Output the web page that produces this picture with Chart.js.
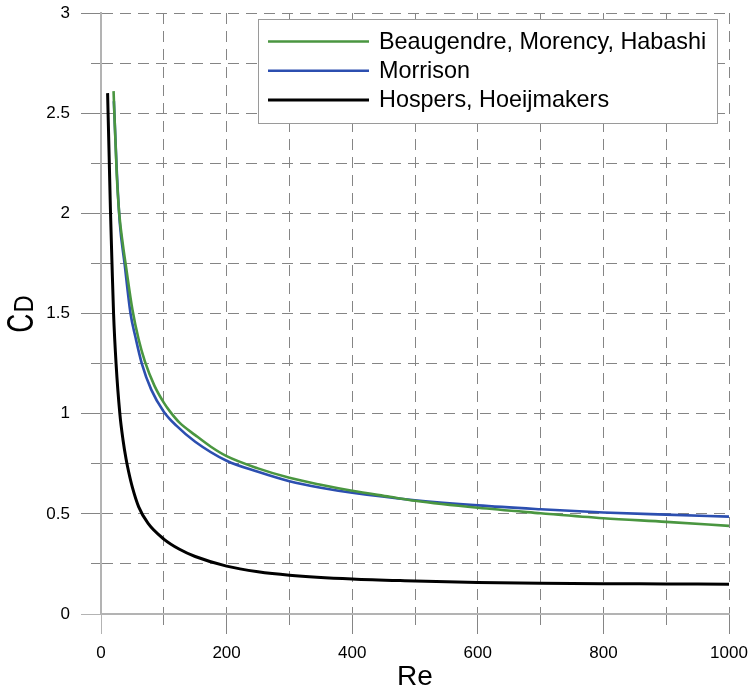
<!DOCTYPE html>
<html><head><meta charset="utf-8">
<script src="https://cdn.jsdelivr.net/npm/chart.js@4/dist/chart.umd.min.js"></script>
<style>html,body{margin:0;padding:0;background:#fff;}</style>
</head><body>
<canvas id="c" width="750" height="691"></canvas>
<script>
// ---- data ----
const seriesNames = ['Beaugendre, Morency, Habashi', 'Morrison', 'Hospers, Hoeijmakers'];

const reBeaugendre = [20, 25, 29, 35, 40, 50, 60, 70, 85, 100, 110, 125, 150, 175, 200, 250, 300, 350, 400, 460, 500, 600, 700, 800, 900, 1000];
const cdBeaugendre = [2.61, 2.20, 2.00, 1.84, 1.73, 1.52, 1.37, 1.26, 1.14, 1.055, 1.01, 0.955, 0.893, 0.835, 0.788, 0.727, 0.68, 0.645, 0.615, 0.585, 0.565, 0.53, 0.503, 0.478, 0.46, 0.44];

const reMorrison = [20.5, 25, 30, 37.5, 47, 55, 65, 80, 100, 120, 150, 200, 250, 300, 350, 400, 500, 600, 700, 800, 900, 1000];
const cdMorrison = [2.56, 2.22, 1.95, 1.75, 1.50, 1.38, 1.25, 1.12, 1.01, 0.94, 0.86, 0.765, 0.71, 0.663, 0.63, 0.605, 0.568, 0.542, 0.523, 0.507, 0.496, 0.486];

const reHospers = [10.5, 13, 15, 17.5, 20, 24, 30, 35, 40, 44, 50, 60, 75, 100, 125, 150, 200, 250, 300, 400, 500, 600, 700, 800, 900, 1000];
const cdHospers = [2.60, 2.28, 2.02, 1.75, 1.50, 1.25, 1.00, 0.87, 0.772, 0.71, 0.632, 0.535, 0.452, 0.374, 0.323, 0.287, 0.239, 0.211, 0.194, 0.175, 0.165, 0.157, 0.153, 0.151, 0.150, 0.149];

const xTickLabels = ['0', '200', '400', '600', '800', '1000'];
const yTickLabels = ['0', '0.5', '1', '1.5', '2', '2.5', '3'];
const xTitle = 'Re';
const yTitleMain = 'C';
const yTitleSub = 'D';

// ---- build ----
const FONT = "'Liberation Sans', Arial, sans-serif";
const toPts = (xs, ys) => xs.map((x, i) => ({x: x, y: ys[i]}));
const colors = ['#4a9640', '#2c4fb0', '#000000'];
const widths = [2.6, 2.6, 3];
const allRe = [reBeaugendre, reMorrison, reHospers];
const allCd = [cdBeaugendre, cdMorrison, cdHospers];

const datasets = seriesNames.map((n, i) => ({
  label: n,
  data: toPts(allRe[i], allCd[i]),
  borderColor: colors[i],
  backgroundColor: colors[i],
  borderWidth: widths[i],
  pointRadius: 0,
  fill: false,
  cubicInterpolationMode: 'monotone'
}));

const GRID = '#858585';
const AXIS = '#b3b3b3';

const isMajorX = v => xTickLabels.includes(String(+(+v).toFixed(4)));
const isMajorY = v => yTickLabels.includes(String(+(+v).toFixed(4)));

function gridFor(isMajor, offMinor) {
  return {
    color: c => (c.tick && c.tick.value === 0) ? 'rgba(0,0,0,0)' : GRID,
    lineWidth: 1,
    drawTicks: true,
    tickLength: 20,
    tickWidth: 1,
    tickColor: c => (c.tick && c.tick.value === 0) ? AXIS : GRID,
    tickBorderDash: c => (c.tick && isMajor(c.tick.value)) ? [] : [10, 10],
    tickBorderDashOffset: c => (c.tick && isMajor(c.tick.value)) ? 0 : offMinor
  };
}

const legendBox = {
  id: 'legendBox',
  afterDatasetsDraw(chart) {
    const ctx = chart.ctx;
    const xs = chart.scales.x, ys = chart.scales.y;
    const left = Math.round(xs.getPixelForValue(250)), right = Math.round(xs.getPixelForValue(981));
    const top = Math.round(ys.getPixelForValue(2.97)), bottom = Math.round(ys.getPixelForValue(2.45));
    ctx.save();
    ctx.fillStyle = '#fff';
    ctx.fillRect(left, top, right - left, bottom - top);
    ctx.strokeStyle = '#9a9a9a';
    ctx.lineWidth = 1;
    ctx.strokeRect(left + 0.5, top + 0.5, right - left, bottom - top);
    ctx.font = '23.4px ' + FONT;
    ctx.textBaseline = 'middle';
    ctx.textAlign = 'left';
    chart.data.datasets.forEach((ds, i) => {
      const y = top + 22.5 + i * 29.2;
      ctx.strokeStyle = ds.borderColor;
      ctx.lineWidth = ds.borderWidth;
      ctx.beginPath();
      ctx.moveTo(left + 10, y);
      ctx.lineTo(left + 111, y);
      ctx.stroke();
      ctx.fillStyle = '#000';
      ctx.fillText(ds.label, left + 121, y + 1);
    });
    ctx.restore();
  }
};

const yTitlePlugin = {
  id: 'yTitle',
  afterDraw(chart) {
    const ctx = chart.ctx;
    const ys = chart.scales.y;
    const cy = (ys.top + ys.bottom) / 2;
    ctx.save();
    ctx.translate(33, cy + 19);
    ctx.rotate(-Math.PI / 2);
    ctx.fillStyle = '#000';
    ctx.textBaseline = 'alphabetic';
    ctx.textAlign = 'left';
    ctx.save();
    ctx.scale(0.72, 1);
    ctx.font = '36px ' + FONT;
    ctx.fillText(yTitleMain, 0, 0);
    ctx.restore();
    ctx.save();
    ctx.translate(20, 0);
    ctx.scale(0.85, 1);
    ctx.font = '28px ' + FONT;
    ctx.fillText(yTitleSub, 0, 0);
    ctx.restore();
    ctx.restore();
  }
};

new Chart(document.getElementById('c'), {
  type: 'line',
  data: { datasets: datasets },
  options: {
    responsive: false,
    animation: false,
    devicePixelRatio: 1,
    layout: { padding: { left: 0, right: 21, top: 13, bottom: 0 } },
    plugins: { legend: { display: false }, tooltip: { enabled: false } },
    scales: {
      x: {
        type: 'linear', min: 0, max: 1000,
        ticks: {
          stepSize: 100, autoSkip: false, maxRotation: 0, minRotation: 0,
          color: '#000', font: { family: FONT, size: 17 }, padding: 9,
          callback: v => isMajorX(v) ? String(v) : ''
        },
        grid: gridFor(isMajorX, 0),
        border: { display: true, color: AXIS, width: 2, dash: [11, 7] },
        title: { display: true, text: xTitle, color: '#000', font: { family: FONT, size: 28 }, padding: { top: 0, bottom: -3 } },
        afterFit: s => { s.height = 77; s.paddingLeft = 0; s.paddingRight = 0; }
      },
      y: {
        type: 'linear', min: 0, max: 3,
        ticks: {
          stepSize: 0.25, autoSkip: false,
          color: '#000', font: { family: FONT, size: 17 }, padding: 11,
          callback: v => isMajorY(v) ? String(+(+v).toFixed(4)) : ''
        },
        grid: gridFor(isMajorY, 10),
        border: { display: true, color: AXIS, width: 2, dash: [11, 7] },
        title: { display: false },
        afterFit: s => { s.width = 101; s.paddingTop = 0; s.paddingBottom = 0; }
      }
    }
  },
  plugins: [legendBox, yTitlePlugin]
});
</script>
</body></html>
